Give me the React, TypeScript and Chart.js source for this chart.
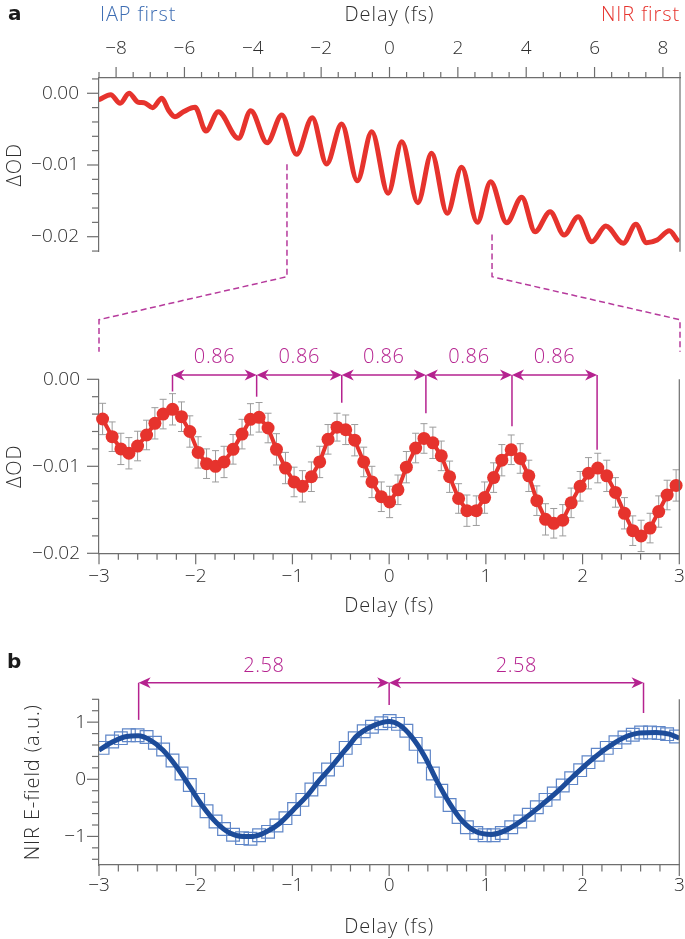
import React, { useEffect, useRef } from 'react';
import { Chart, registerables } from 'chart.js';

Chart.register(...registerables);

// ---------------- data ----------------
// Panel a (overview): delay (fs) and ΔOD
const overviewDelay = [
  -8.47, -8.16, -7.88, -7.62, -7.35, -7.18, -6.93, -6.66, -6.47, -6.28,
  -6.03, -5.69, -5.37, -5.01, -4.42, -4.06, -3.58, -3.15, -2.72, -2.26,
  -1.84, -1.40, -0.94, -0.52, -0.04, 0.36, 0.83, 1.23, 1.69, 2.11,
  2.57, 2.96, 3.43, 3.87, 4.26, 4.70, 5.11, 5.52, 5.92, 6.33,
  6.84, 7.21, 7.52, 7.83, 8.19, 8.42,
];
const overviewOD = [
  -0.00084, -0.0002, -0.00139, 0.0, -0.00126, -0.00131, -0.00201, -0.0007, -0.00233, -0.00326,
  -0.00257, -0.00195, -0.00526, -0.00257, -0.00628, -0.00243, -0.00689, -0.00303, -0.00851, -0.0034,
  -0.00986, -0.00428, -0.01219, -0.00536, -0.01395, -0.00675, -0.01526, -0.00837, -0.01674, -0.01032,
  -0.01799, -0.01233, -0.01805, -0.0145, -0.0193, -0.01651, -0.01976, -0.01721, -0.0207, -0.01851,
  -0.02092, -0.01827, -0.02084, -0.02046, -0.01916, -0.02046,
];
const overviewXLabels = [-8, -6, -4, -2, 0, 2, 4, 6, 8];
const overviewYLabels = [0, -0.01, -0.02];
const zoomWindow = [-3, 3];
const zoomWindowStartOD = [-0.0099, -0.0197];

// Panel a (zoom): delay (fs), ΔOD, error
const zoomDelay = [
  -2.963, -2.864, -2.774, -2.691, -2.601, -2.508, -2.422, -2.337, -2.24, -2.147,
  -2.061, -1.975, -1.888, -1.795, -1.707, -1.614, -1.521, -1.434, -1.345, -1.252,
  -1.165, -1.072, -0.983, -0.897, -0.804, -0.718, -0.632, -0.539, -0.449, -0.356,
  -0.263, -0.178, -0.081, 0.005, 0.091, 0.178, 0.274, 0.36, 0.452, 0.539,
  0.625, 0.718, 0.804, 0.901, 0.987, 1.08, 1.165, 1.262, 1.355, 1.444,
  1.527, 1.617, 1.702, 1.795, 1.882, 1.975, 2.061, 2.157, 2.25, 2.34,
  2.433, 2.519, 2.605, 2.698, 2.787, 2.874, 2.967,
];
const zoomOD = [
  -0.00456, -0.0066, -0.008, -0.0085, -0.00767, -0.0064, -0.00506, -0.004, -0.00345, -0.0043,
  -0.006, -0.0084, -0.0097, -0.01, -0.0095, -0.00805, -0.0063, -0.0046, -0.00437, -0.0056,
  -0.00805, -0.0102, -0.0118, -0.0123, -0.0112, -0.0095, -0.0069, -0.0055, -0.0058, -0.007,
  -0.0095, -0.0118, -0.0135, -0.0141, -0.0127, -0.0101, -0.0079, -0.0068, -0.0073, -0.0088,
  -0.0112, -0.0137, -0.0151, -0.0151, -0.0136, -0.0113, -0.0093, -0.0081, -0.0091, -0.0111,
  -0.01395, -0.0161, -0.01655, -0.0162, -0.0142, -0.0123, -0.0108, -0.0102, -0.0111, -0.013,
  -0.0154, -0.0174, -0.018, -0.0171, -0.0152, -0.0133, -0.0122,
];
const zoomErr = [
  0.0018, 0.0017, 0.0018, 0.0018, 0.0017, 0.0017, 0.0018, 0.0017, 0.0018, 0.0017,
  0.0018, 0.0018, 0.0017, 0.0018, 0.0018, 0.0017, 0.0017, 0.0018, 0.0017, 0.0017,
  0.0018, 0.0018, 0.0017, 0.0018, 0.0017, 0.0018, 0.0017, 0.0016, 0.0017, 0.0018,
  0.0017, 0.0018, 0.0017, 0.0018, 0.0017, 0.0018, 0.0017, 0.0017, 0.0018, 0.0017,
  0.0018, 0.0017, 0.0018, 0.0017, 0.0018, 0.0017, 0.0018, 0.0017, 0.0017, 0.0018,
  0.0017, 0.0018, 0.0017, 0.0018, 0.0017, 0.0017, 0.0018, 0.0017, 0.0018, 0.0017,
  0.0018, 0.0017, 0.0018, 0.0017, 0.0018, 0.0017, 0.0018,
];
const zoomXLabels = [-3, -2, -1, 0, 1, 2, 3];
const zoomYLabels = [0, -0.01, -0.02];
const zoomPeakDelay = [-2.24, -1.37, -0.49, 0.38, 1.27, 2.15];
const zoomPeakMarkEnd = [-0.0014, -0.002, -0.0027, -0.0039, -0.0054, -0.0081];
const zoomPeriodLabels = ['0.86', '0.86', '0.86', '0.86', '0.86'];
const zoomArrowLevel = 0.0005;

// Panel b: NIR E-field (measured squares + fitted curve)
const fieldDelay = zoomDelay;
const fieldValue = [
  0.55, 0.66, 0.72, 0.77, 0.77, 0.74, 0.64, 0.52, 0.33, 0.1,
  -0.1, -0.36, -0.56, -0.74, -0.87, -0.97, -1.03, -1.04, -0.98, -0.92,
  -0.81, -0.68, -0.52, -0.36, -0.18, 0.0, 0.17, 0.34, 0.55, 0.72,
  0.84, 0.92, 0.98, 1.02, 0.97, 0.85, 0.62, 0.4, 0.1, -0.2,
  -0.45, -0.66, -0.84, -0.94, -0.98, -0.98, -0.94, -0.84, -0.74, -0.62,
  -0.49, -0.36, -0.25, -0.11, 0.02, 0.16, 0.3, 0.43, 0.55, 0.65,
  0.73, 0.78, 0.82, 0.82, 0.81, 0.79, 0.75,
];
const fitDelay = [
  -3.0, -2.853, -2.715, -2.595, -2.474, -2.337, -2.198, -2.061, -1.924, -1.785,
  -1.648, -1.51, -1.407, -1.269, -1.131, -0.994, -0.855, -0.718, -0.581, -0.5,
  -0.42, -0.339, -0.167, 0.0, 0.108, 0.229, 0.367, 0.488, 0.625, 0.762,
  0.901, 1.056, 1.211, 1.382, 1.555, 1.727, 1.899, 2.071, 2.244, 2.415,
  2.588, 2.76, 2.898, 3.0,
];
const fitValue = [
  0.51, 0.66, 0.75, 0.76, 0.69, 0.51, 0.22, -0.13, -0.48, -0.76,
  -0.94, -1.0, -1.0, -0.92, -0.77, -0.54, -0.3, -0.01, 0.25, 0.42,
  0.58, 0.75, 0.935, 1.01, 0.95, 0.75, 0.4, -0.01, -0.42, -0.74,
  -0.92, -0.965, -0.89, -0.71, -0.48, -0.235, 0.045, 0.31, 0.54, 0.72,
  0.81, 0.82, 0.79, 0.72,
];
const fieldXLabels = [-3, -2, -1, 0, 1, 2, 3];
const fieldYLabels = [1, 0, -1];
const fieldPeakDelay = [-2.59, 0.0, 2.63];
const fieldPeakMarkEnd = [1.04, 1.3, 1.16];
const fieldPeriodLabels = ['2.58', '2.58'];
const fieldArrowLevel = 1.69;

// ---------------- styles ----------------
const FONT = '"Open Sans", "DejaVu Sans", sans-serif';
const BOLD_FONT = '"DejaVu Sans", sans-serif';
const SIZE = 19;
const WEIGHT = 300;
const TITLE_FONT = `${WEIGHT} 20px ${FONT}`;
const TITLE_SPACING = '0.9px';
const TEXT = '#2e2e2e';
const AXIS = '#6e6e6e';
const RED = '#e6332d';
const MAGENTA = '#b5228f';
const DASH = '#b63a9c';
const BLUE_TXT = '#3d6db3';
const BLUE_LINE = '#1d4c9a';
const BLUE_SQ = '#5f86c8';
const ERR = '#9c9c9c';

const fmtMinus = (s: string) => s.replace('-', '\u2212');
const near = (a: number, b: number) => Math.abs(a - b) < 1e-7;

function labelFrom(list: number[], digits: number) {
  return (v: any) => {
    const n = Number(v);
    const hit = list.find((l) => near(l, n));
    if (hit === undefined) return '';
    if (near(hit, 0)) return (0).toFixed(digits);
    return fmtMinus(hit.toFixed(digits));
  };
}

function spacedText(ctx: any, text: string, x: number, y: number, spacing: string) {
  const prev = ctx.letterSpacing;
  if (prev !== undefined) ctx.letterSpacing = spacing;
  ctx.fillText(text, x, y);
  if (prev !== undefined) ctx.letterSpacing = prev;
}

// ---------------- plugins ----------------
const tickMarksPlugin = {
  id: 'tickMarks',
  afterDraw(chart: any, _a: any, opts: any) {
    const ctx = chart.ctx;
    const ca = chart.chartArea;
    ctx.save();
    ctx.strokeStyle = AXIS;
    ctx.lineWidth = 1.2;
    (opts.specs || []).forEach((spec: any) => {
      const sc = chart.scales[spec.id];
      sc.ticks.forEach((t: any) => {
        const major = t.label !== '' && t.label !== undefined && t.label !== null;
        const len = major ? spec.major : spec.minor;
        const p = sc.getPixelForValue(t.value);
        ctx.beginPath();
        if (spec.side === 'left') {
          ctx.moveTo(sc.right, p);
          ctx.lineTo(sc.right - len, p);
        } else if (spec.side === 'bottom') {
          ctx.moveTo(p, sc.top);
          ctx.lineTo(p, sc.top + len);
        } else {
          ctx.moveTo(p, sc.bottom);
          ctx.lineTo(p, sc.bottom - len);
        }
        ctx.stroke();
      });
    });
    // right frame line
    ctx.beginPath();
    ctx.moveTo(ca.right, ca.top);
    ctx.lineTo(ca.right, ca.bottom);
    ctx.stroke();

    // axis titles
    const t = opts.titles;
    if (t) {
      ctx.fillStyle = TEXT;
      ctx.font = TITLE_FONT;
      ctx.textAlign = 'center';
      ctx.textBaseline = 'middle';
      const xy = t.xSide === 'top' ? ca.top - t.xGap : ca.bottom + t.xGap;
      spacedText(ctx, t.x, (ca.left + ca.right) / 2, xy, TITLE_SPACING);
      ctx.save();
      ctx.translate(t.yPos, (ca.top + ca.bottom) / 2);
      ctx.rotate(-Math.PI / 2);
      spacedText(ctx, t.y, 0, 0, TITLE_SPACING);
      ctx.restore();
    }
    ctx.restore();
  },
};

function arrowHead(ctx: CanvasRenderingContext2D, tipX: number, tipY: number, dir: number) {
  const L = 12;
  const W = 5.5;
  const notch = 8.5;
  ctx.beginPath();
  ctx.moveTo(tipX, tipY);
  ctx.lineTo(tipX - dir * L, tipY - W);
  ctx.lineTo(tipX - dir * notch, tipY);
  ctx.lineTo(tipX - dir * L, tipY + W);
  ctx.closePath();
  ctx.fill();
}

function drawPeriodArrows(chart: any, peaks: number[], ends: number[], labels: string[], level: number, labelGap: number) {
  const { ctx, scales } = chart;
  const xs = scales.x;
  const ys = scales.y;
  const ay = ys.getPixelForValue(level);
  ctx.save();
  ctx.strokeStyle = MAGENTA;
  ctx.fillStyle = MAGENTA;
  ctx.lineWidth = 1.5;
  peaks.forEach((v, i) => {
    const px = xs.getPixelForValue(v);
    ctx.beginPath();
    ctx.moveTo(px, ay);
    ctx.lineTo(px, ys.getPixelForValue(ends[i]));
    ctx.stroke();
  });
  ctx.font = TITLE_FONT;
  ctx.textAlign = 'center';
  ctx.textBaseline = 'middle';
  for (let i = 0; i < peaks.length - 1; i++) {
    const p1 = xs.getPixelForValue(peaks[i]);
    const p2 = xs.getPixelForValue(peaks[i + 1]);
    ctx.beginPath();
    ctx.moveTo(p1 + 4, ay);
    ctx.lineTo(p2 - 4, ay);
    ctx.stroke();
    arrowHead(ctx, p1, ay, -1);
    arrowHead(ctx, p2, ay, 1);
    spacedText(ctx, labels[i], (p1 + p2) / 2, ay - labelGap, '0.6px');
  }
  ctx.restore();
}

const overviewDecor = {
  id: 'overviewDecor',
  afterDraw(chart: any) {
    const { ctx, chartArea: ca, scales } = chart;
    ctx.save();
    ctx.textBaseline = 'middle';
    ctx.textAlign = 'left';
    ctx.font = `bold 20px ${BOLD_FONT}`;
    ctx.fillStyle = '#1a1a1a';
    ctx.fillText('a', 8, 15);
    ctx.font = TITLE_FONT;
    ctx.fillStyle = BLUE_TXT;
    spacedText(ctx, 'IAP first', ca.left + 1, 15, TITLE_SPACING);
    ctx.textAlign = 'right';
    ctx.fillStyle = RED;
    spacedText(ctx, 'NIR first', ca.right, 15, TITLE_SPACING);
    ctx.strokeStyle = DASH;
    ctx.lineWidth = 1.5;
    ctx.setLineDash([6, 3.5]);
    zoomWindow.forEach((xv, i) => {
      const px = scales.x.getPixelForValue(xv);
      const py = scales.y.getPixelForValue(zoomWindowStartOD[i]);
      const tx = i === 0 ? ca.left : ca.right;
      ctx.beginPath();
      ctx.moveTo(px, py);
      ctx.lineTo(px, ca.bottom + 25);
      ctx.lineTo(tx, ca.bottom + 68);
      ctx.lineTo(tx, ca.bottom + 100);
      ctx.stroke();
    });
    ctx.restore();
  },
};

const zoomDecor = {
  id: 'zoomDecor',
  beforeDatasetsDraw(chart: any) {
    const { ctx, scales } = chart;
    ctx.save();
    ctx.strokeStyle = ERR;
    ctx.lineWidth = 1;
    zoomDelay.forEach((xv, i) => {
      const px = scales.x.getPixelForValue(xv);
      const t = scales.y.getPixelForValue(zoomOD[i] + zoomErr[i]);
      const b = scales.y.getPixelForValue(zoomOD[i] - zoomErr[i]);
      ctx.beginPath();
      ctx.moveTo(px, t);
      ctx.lineTo(px, b);
      ctx.moveTo(px - 3.5, t);
      ctx.lineTo(px + 3.5, t);
      ctx.moveTo(px - 3.5, b);
      ctx.lineTo(px + 3.5, b);
      ctx.stroke();
    });
    ctx.restore();
  },
  afterDraw(chart: any) {
    drawPeriodArrows(chart, zoomPeakDelay, zoomPeakMarkEnd, zoomPeriodLabels, zoomArrowLevel, 17.5);
  },
};

const fieldDecor = {
  id: 'fieldDecor',
  afterDraw(chart: any) {
    const { ctx } = chart;
    ctx.save();
    ctx.textBaseline = 'middle';
    ctx.textAlign = 'left';
    ctx.font = `bold 20px ${BOLD_FONT}`;
    ctx.fillStyle = '#1a1a1a';
    ctx.fillText('b', 7, 23);
    ctx.restore();
    drawPeriodArrows(chart, fieldPeakDelay, fieldPeakMarkEnd, fieldPeriodLabels, fieldArrowLevel, 16);
  },
};

// ---------------- helpers ----------------
const tickFont = { size: SIZE, family: FONT, weight: WEIGHT };
const border = { display: true, color: AXIS, width: 1.2 };

const fitX = (h: number) => (s: any) => {
  s.height = h;
  s.paddingLeft = 0;
  s.paddingRight = 0;
  s.paddingTop = 0;
  s.paddingBottom = 0;
};
const fitY = (w: number) => (s: any) => {
  s.width = w;
  s.paddingLeft = 0;
  s.paddingRight = 0;
  s.paddingTop = 0;
  s.paddingBottom = 0;
};

function baseOptions(padding: any, scales: any, plugins: any) {
  return {
    responsive: false,
    maintainAspectRatio: false,
    animation: false,
    devicePixelRatio: 1,
    layout: { padding, autoPadding: false },
    plugins: { legend: { display: false }, tooltip: { enabled: false }, ...plugins },
    scales,
  };
}

function xAxis(opts: any) {
  return {
    type: 'linear',
    grid: { display: false, drawTicks: false },
    border,
    title: { display: false },
    ...opts,
    ticks: {
      autoSkip: false,
      maxRotation: 0,
      minRotation: 0,
      color: TEXT,
      font: tickFont,
      ...opts.ticks,
    },
  };
}
const yAxis = xAxis;

export default function App() {
  const refA = useRef<HTMLCanvasElement>(null);
  const refB = useRef<HTMLCanvasElement>(null);
  const refC = useRef<HTMLCanvasElement>(null);

  useEffect(() => {
    Chart.defaults.font.family = FONT;
    Chart.defaults.color = TEXT;

    const chartA = new Chart(refA.current as HTMLCanvasElement, {
      type: 'line',
      data: {
        datasets: [
          {
            data: overviewDelay.map((x, i) => ({ x, y: overviewOD[i] })),
            borderColor: RED,
            borderWidth: 5,
            pointRadius: 0,
            cubicInterpolationMode: 'monotone',
            borderCapStyle: 'round',
            borderJoinStyle: 'round',
          },
        ],
      },
      options: baseOptions(
        { left: 0, right: 5, top: 0, bottom: 108.3 },
        {
          x: xAxis({
            position: 'top',
            min: -8.5,
            max: 8.5,
            afterFit: fitX(78),
            ticks: { stepSize: 0.5, padding: 18.5, callback: labelFrom(overviewXLabels, 0) },
          }),
          y: yAxis({
            min: -0.02209,
            max: 0.00213,
            afterFit: fitY(99),
            ticks: { stepSize: 0.002, includeBounds: false, padding: 20, callback: labelFrom(overviewYLabels, 2) },
          }),
        },
        {
          tickMarks: {
            specs: [
              { id: 'x', side: 'top', major: 11, minor: 6 },
              { id: 'y', side: 'left', major: 12, minor: 7 },
            ],
            titles: { x: 'Delay (fs)', xSide: 'top', xGap: 63, y: 'ΔOD', yPos: 15 },
          },
        }
      ) as any,
      plugins: [tickMarksPlugin, overviewDecor],
    } as any);

    const chartB = new Chart(refB.current as HTMLCanvasElement, {
      type: 'line',
      data: {
        datasets: [
          {
            data: zoomDelay.map((x, i) => ({ x, y: zoomOD[i] })),
            borderColor: RED,
            borderWidth: 4,
            pointRadius: 6.5,
            pointBackgroundColor: RED,
            pointBorderWidth: 0,
            clip: false,
          },
        ],
      },
      options: baseOptions(
        { left: 0, right: 5.7, top: 49.3, bottom: 6.7 },
        {
          x: xAxis({
            min: -3,
            max: 3,
            afterFit: fitX(70),
            ticks: { stepSize: 0.2, padding: 12, callback: labelFrom(zoomXLabels, 0) },
          }),
          y: yAxis({
            min: -0.02,
            max: 0,
            afterFit: fitY(99),
            ticks: { stepSize: 0.002, padding: 19, callback: labelFrom(zoomYLabels, 2) },
          }),
        },
        {
          tickMarks: {
            specs: [
              { id: 'x', side: 'bottom', major: 11, minor: 6.5 },
              { id: 'y', side: 'left', major: 12, minor: 7 },
            ],
            titles: { x: 'Delay (fs)', xSide: 'bottom', xGap: 52.5, y: 'ΔOD', yPos: 15 },
          },
        }
      ) as any,
      plugins: [tickMarksPlugin, zoomDecor],
    } as any);

    const chartC = new Chart(refC.current as HTMLCanvasElement, {
      type: 'line',
      data: {
        datasets: [
          {
            data: fitDelay.map((x, i) => ({ x, y: fitValue[i] })),
            borderColor: BLUE_LINE,
            borderWidth: 5,
            pointRadius: 0,
            cubicInterpolationMode: 'monotone',
            borderCapStyle: 'butt',
          },
          {
            data: fieldDelay.map((x, i) => ({ x, y: fieldValue[i] })),
            showLine: false,
            pointStyle: 'rect',
            pointRadius: 9,
            pointBackgroundColor: 'rgba(0,0,0,0)',
            pointBorderColor: BLUE_SQ,
            pointBorderWidth: 1.2,
            borderColor: BLUE_SQ,
          },
        ],
      },
      options: baseOptions(
        { left: 0, right: 5.7, top: 59.3, bottom: 0 },
        {
          x: xAxis({
            min: -3,
            max: 3,
            afterFit: fitX(74),
            ticks: { stepSize: 0.2, padding: 9.5, callback: labelFrom(fieldXLabels, 0) },
          }),
          y: yAxis({
            min: -1.5,
            max: 1.4,
            afterFit: fitY(99),
            ticks: { stepSize: 0.2, includeBounds: false, padding: 13, callback: labelFrom(fieldYLabels, 0) },
          }),
        },
        {
          tickMarks: {
            specs: [
              { id: 'x', side: 'bottom', major: 11, minor: 6.5 },
              { id: 'y', side: 'left', major: 12, minor: 7 },
            ],
            titles: { x: 'Delay (fs)', xSide: 'bottom', xGap: 62, y: 'NIR E-field (a.u.)', yPos: 33 },
          },
        }
      ) as any,
      plugins: [tickMarksPlugin, fieldDecor],
    } as any);

    return () => {
      chartA.destroy();
      chartB.destroy();
      chartC.destroy();
    };
  }, []);

  return (
    <div style={{ position: 'fixed', left: 0, top: 0, width: 685, height: 939, background: '#ffffff', overflow: 'hidden' }}>
      <canvas ref={refA} width={685} height={360} style={{ position: 'absolute', left: 0, top: 0, width: 685, height: 360 }} />
      <canvas ref={refB} width={685} height={300} style={{ position: 'absolute', left: 0, top: 330, width: 685, height: 300 }} />
      <canvas ref={refC} width={685} height={299} style={{ position: 'absolute', left: 0, top: 640, width: 685, height: 299 }} />
    </div>
  );
}
